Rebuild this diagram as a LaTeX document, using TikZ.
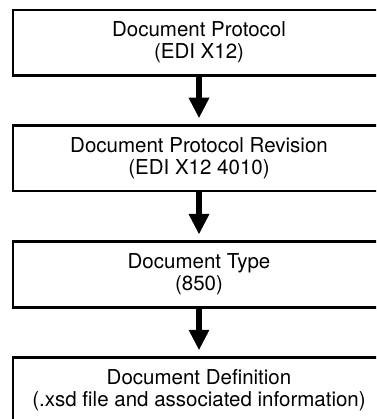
\documentclass[tikz,border=0pt]{standalone}
\usepackage{fontspec}
\setmainfont{TeX Gyre Heros}
\usetikzlibrary{arrows.meta}
\tikzstyle{docbox}=[draw, rectangle, line width=2.8pt, minimum width=372pt, minimum height=65.5pt, inner sep=0pt, align=center, font=\fontsize{20.5}{22}\selectfont]
\tikzstyle{flow}=[line width=5.5pt, -{Triangle[width=21pt,length=20pt,line width=0pt]}, shorten >=6.4pt]

\begin{document}
\begin{tikzpicture}[x=1pt,y=1pt]
	\useasboundingbox (0,0) rectangle (376,-419);
	\clip (0,0) rectangle (376,-419);
	\node[docbox] (proto) at (199,-42.7) {Document Protocol\\(EDI X12)};
	\node[docbox] (rev) at (199,-158.3) {Document Protocol Revision\\(EDI X12 4010)};
	\node[docbox] (type) at (199,-274.5) {Document Type\\(850)};
	\node[docbox] (def) at (199,-390.3) {Document Definition\\(.xsd file and associated information)};
	\draw[flow] (proto) -- (rev);
	\draw[flow] (rev) -- (type);
	\draw[flow] (type) -- (def);
\end{tikzpicture}
\end{document}
